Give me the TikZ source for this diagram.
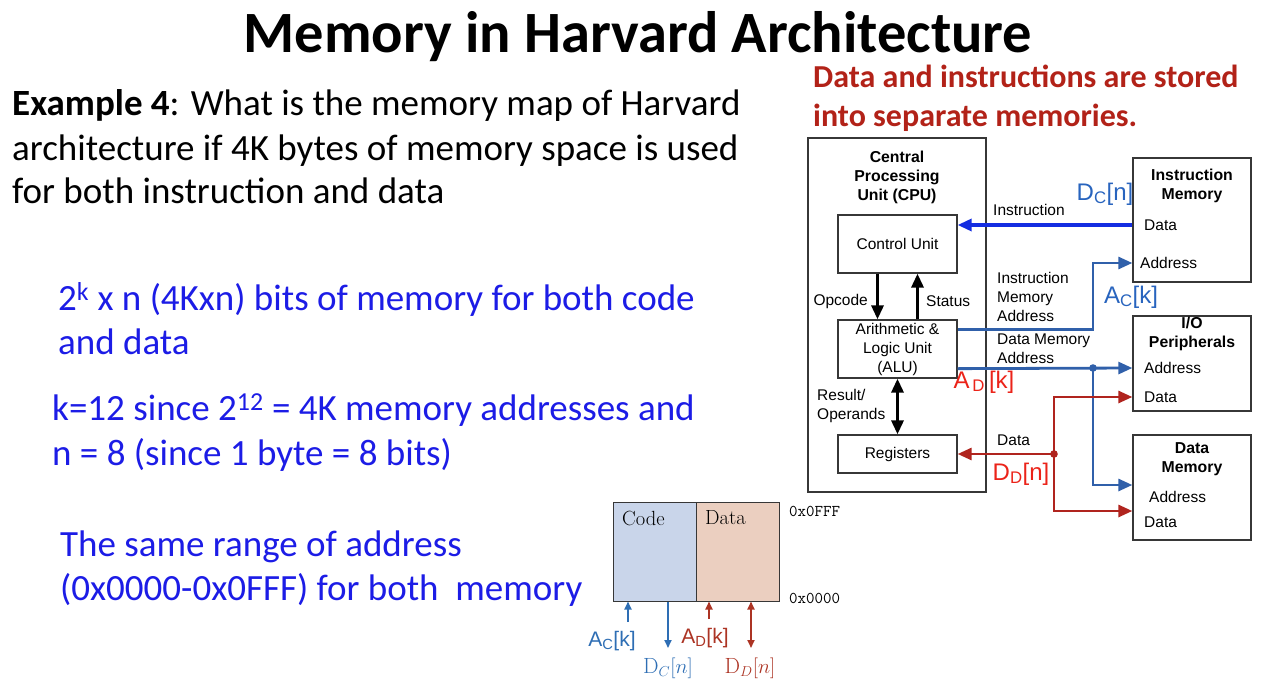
\documentclass[tikz,border=0pt]{standalone}
\usepackage[no-math]{fontspec}
\setmainfont{Carlito}
\newfontfamily\arialf{Liberation Sans}
\usetikzlibrary{arrows.meta,calc}

\definecolor{slideblue}{RGB}{28,28,230}
\definecolor{slidered}{RGB}{178,34,24}
\definecolor{busblue}{RGB}{20,45,225}
\definecolor{addrblue}{RGB}{48,96,170}
\definecolor{datared}{RGB}{176,36,30}
\definecolor{lblblue}{RGB}{40,100,190}
\definecolor{lblred}{RGB}{235,35,25}
\definecolor{boxgray}{RGB}{55,55,55}
\definecolor{codefill}{RGB}{201,213,234}
\definecolor{datafill}{RGB}{235,207,192}
\definecolor{mapblue}{RGB}{46,110,180}
\definecolor{mapred}{RGB}{172,52,36}

\tikzset{
  slide/.style={inner sep=0pt, anchor=base west, font=\fontsize{37}{44}\selectfont},
  bluetext/.style={slide, text=slideblue},
  unitbox/.style={draw=boxgray, line width=1.3pt, fill=white, inner sep=0pt, align=center,
    font=\arialf\fontsize{15.5}{19}\selectfont},
  headtxt/.style={inner sep=0pt, align=center, font=\arialf\bfseries\fontsize{15.8}{19}\selectfont},
  wirelbl/.style={inner sep=0pt, align=left, font=\arialf\fontsize{15.5}{19}\selectfont},
  buslbl/.style={inner sep=0pt, font=\arialf\fontsize{24}{28}\selectfont},
  bigtip/.style={-{Triangle[length=14pt,width=12pt]}},
  ctrl/.style={line width=3.2pt, bigtip},
  instr/.style={draw=busblue, line width=3.2pt, bigtip},
  addr/.style={draw=addrblue, line width=2.8pt, bigtip},
  dbus/.style={draw=datared, line width=2.8pt, bigtip},
  maparrow/.style={line width=1.7pt, -{Triangle[length=8pt,width=7pt]}},
  maplbl/.style={inner sep=0pt, font=\arialf\fontsize{21}{24}\selectfont},
  mapmath/.style={inner sep=0pt, font=\fontsize{22}{26}\selectfont},
  serifmap/.style={inner sep=0pt, anchor=west, font=\fontfamily{lmr}\selectfont\fontsize{20.5}{24}\selectfont},
  addrlbl/.style={inner sep=0pt, anchor=west, font=\ttfamily\fontsize{16.5}{19}\selectfont},
}

\begin{document}
\begin{tikzpicture}[x=1pt,y=-1pt]
\useasboundingbox (0,0) rectangle (1264,688);

% ---------- heading and explanation ----------
\node[inner sep=0pt, anchor=base, font=\bfseries\fontsize{58.5}{66}\selectfont] (title) at (638,52)
  {Memory in Harvard Architecture};

\node[slide] (ex1) at (12,115) {\textbf{Example 4}: What is the memory map of Harvard};
\node[slide] (ex2) at (12,160) {architecture if 4K bytes of memory space is used};
\node[slide] (ex3) at (12,203) {for both instruction and data};

\node[bluetext] (b1) at (58,310) {2\textsuperscript{k} x n (4Kxn) bits of memory for both code};
\node[bluetext] (b2) at (58,354) {and data};
\node[bluetext] (b3) at (52,420) {k=12 since 2\textsuperscript{12} = 4K memory addresses and};
\node[bluetext] (b4) at (52,465) {n = 8 (since 1 byte = 8 bits)};
\node[bluetext] (b5) at (60,556) {The same range of address};
\node[bluetext] (b6) at (60,600) {(0x0000-0x0FFF) for both\ \ memory};

\node[inner sep=0pt, anchor=base west, text=slidered, font=\bfseries\fontsize{32}{38}\selectfont] (r1)
  at (813,87) {Data and instructions are stored};
\node[inner sep=0pt, anchor=base west, text=slidered, font=\bfseries\fontsize{32}{38}\selectfont] (r2)
  at (813,126) {into separate memories.};

% ---------- Harvard block diagram ----------
\node[unitbox, minimum width=178pt, minimum height=354pt] (cpu) at (897,315) {};
\node[headtxt] (cputitle) at (897,177) {Central\\Processing\\Unit (CPU)};

\node[unitbox, minimum width=119pt, minimum height=58pt] (cu) at (897.5,244) {Control Unit};
\node[unitbox, minimum width=119pt, minimum height=58pt] (alu) at (897.5,349)
  {Arithmetic \&\\Logic Unit\\(ALU)};
\node[unitbox, minimum width=119pt, minimum height=38pt] (reg) at (897.5,454) {Registers};

\node[unitbox, minimum width=118pt, minimum height=124pt] (im) at (1192,220) {};
\node[headtxt] (imtitle) at (1192,185.5) {Instruction\\Memory};
\node[wirelbl, anchor=west] (imd) at (1144,225) {Data};
\node[wirelbl, anchor=west] (ima) at (1140,263) {Address};

\node[unitbox, minimum width=118pt, minimum height=95pt] (io) at (1192,363.5) {};
\node[headtxt] (iotitle) at (1192,333.5) {I/O\\Peripherals};
\node[wirelbl, anchor=west] (ioa) at (1144,368) {Address};
\node[wirelbl, anchor=west] (iod) at (1144,397) {Data};

\node[unitbox, minimum width=118pt, minimum height=105pt] (dm) at (1192,487.5) {};
\node[headtxt] (dmtitle) at (1192,459) {Data\\Memory};
\node[wirelbl, anchor=west] (dma) at (1149,497) {Address};
\node[wirelbl, anchor=west] (dmd) at (1144,522) {Data};

% ports on the memory blocks and wire junctions
\coordinate (imdata) at (im.west |- imd);
\coordinate (imaddr) at (im.west |- ima);
\coordinate (ioaddr) at (io.west |- ioa);
\coordinate (iodata) at (io.west |- iod);
\coordinate (dmaddr) at (dm.west |- 0,485);
\coordinate (dmdata) at (dm.west |- 0,511);
\coordinate (aluI) at ($(alu.north east)+(0,10)$);
\coordinate (aluD) at ($(alu.south east)+(0,-10)$);
\coordinate (jb) at (1093,368);
\coordinate (jr) at (1054,454);

% control paths inside the CPU
\draw[ctrl] ($(cu.south)+(-20,0)$) -- ($(alu.north)+(-20,0)$);
\draw[ctrl] ($(alu.north)+(20,0)$) -- ($(cu.south)+(20,0)$);
\draw[ctrl, {Triangle[length=14pt,width=12pt]}-{Triangle[length=14pt,width=12pt]}] (alu.south) -- (reg.north);
\node[wirelbl, anchor=east] (opc) at (868,301) {Opcode};
\node[wirelbl, anchor=west] (sts) at (926,301) {Status};
\node[wirelbl, anchor=west] (res) at (817,406) {Result/\\Operands};

% buses
\draw[instr] (imdata) -- (cu.east |- imdata);
\draw[addr] (aluI) -| (jb |- imaddr) -- (imaddr);
\draw[addr] (aluD) -- (ioaddr);
\draw[addr] (jb) |- (dmaddr);
\fill[addrblue] (jb) circle (3.8pt);
\draw[dbus] (jr) -- (reg.east |- jr);
\draw[dbus] (jr) |- (iodata);
\draw[dbus] (jr) |- (dmdata);
\fill[datared] (jr) circle (3.8pt);

\node[wirelbl, anchor=west] (instrlbl) at (993,210) {Instruction};
\node[wirelbl, anchor=west] (imalbl) at (997,297) {Instruction\\Memory\\Address};
\node[wirelbl, anchor=west] (dmalbl) at (997,349) {Data Memory\\Address};
\node[wirelbl, anchor=west] (datalbl) at (997,440) {Data};

\node[buslbl, text=lblblue] (dcn) at (1105,194) {D\textsubscript{C}[n]};
\node[buslbl, text=lblblue] (ack) at (1131,297) {A\textsubscript{C}[k]};
\node[buslbl, text=lblred] (adk) at (984,382) {A\textsubscript{\,D}\,[k]};
\node[buslbl, text=lblred] (ddn) at (1021,474) {D\textsubscript{D}[n]};

% ---------- memory map ----------
\node[draw=boxgray, line width=1pt, fill=codefill, minimum width=83pt, minimum height=99pt, inner sep=0pt]
  (code) at (654.5,551.5) {};
\node[draw=boxgray, line width=1pt, fill=datafill, minimum width=83pt, minimum height=99pt, inner sep=0pt]
  (data) at (737.5,551.5) {};
\node[serifmap] (codelbl) at (622,518) {Code};
\node[serifmap] (datalbl2) at (705,518) {Data};
\node[addrlbl] (top) at (789,511) {0x0FFF};
\node[addrlbl] (bot) at (789,598) {0x0000};

\coordinate (acs) at (628,622);
\coordinate (dce) at (668,648);
\coordinate (ads) at (709,619);
\coordinate (dde) at (751,648);
\draw[maparrow, mapblue] (acs) -- (code.south -| acs);
\draw[maparrow, mapblue] (code.south -| dce) -- (dce);
\draw[maparrow, mapred] (ads) -- (data.south -| ads);
\draw[maparrow, mapred, {Triangle[length=8pt,width=7pt]}-{Triangle[length=8pt,width=7pt]}]
  (data.south -| dde) -- (dde);

\node[maplbl, text=mapblue] (acklbl) at (612,641) {A\textsubscript{C}[k]};
\node[maplbl, text=mapred] (adklbl) at (705,638) {A\textsubscript{D}[k]};
\node[mapmath, text=mapblue] (dcnlbl) at (668,668) {{\fontfamily{lmr}\selectfont D}$_C[n]$};
\node[mapmath, text=mapred] (ddnlbl) at (750,668) {{\fontfamily{lmr}\selectfont D}$_D[n]$};
\end{tikzpicture}
\end{document}
